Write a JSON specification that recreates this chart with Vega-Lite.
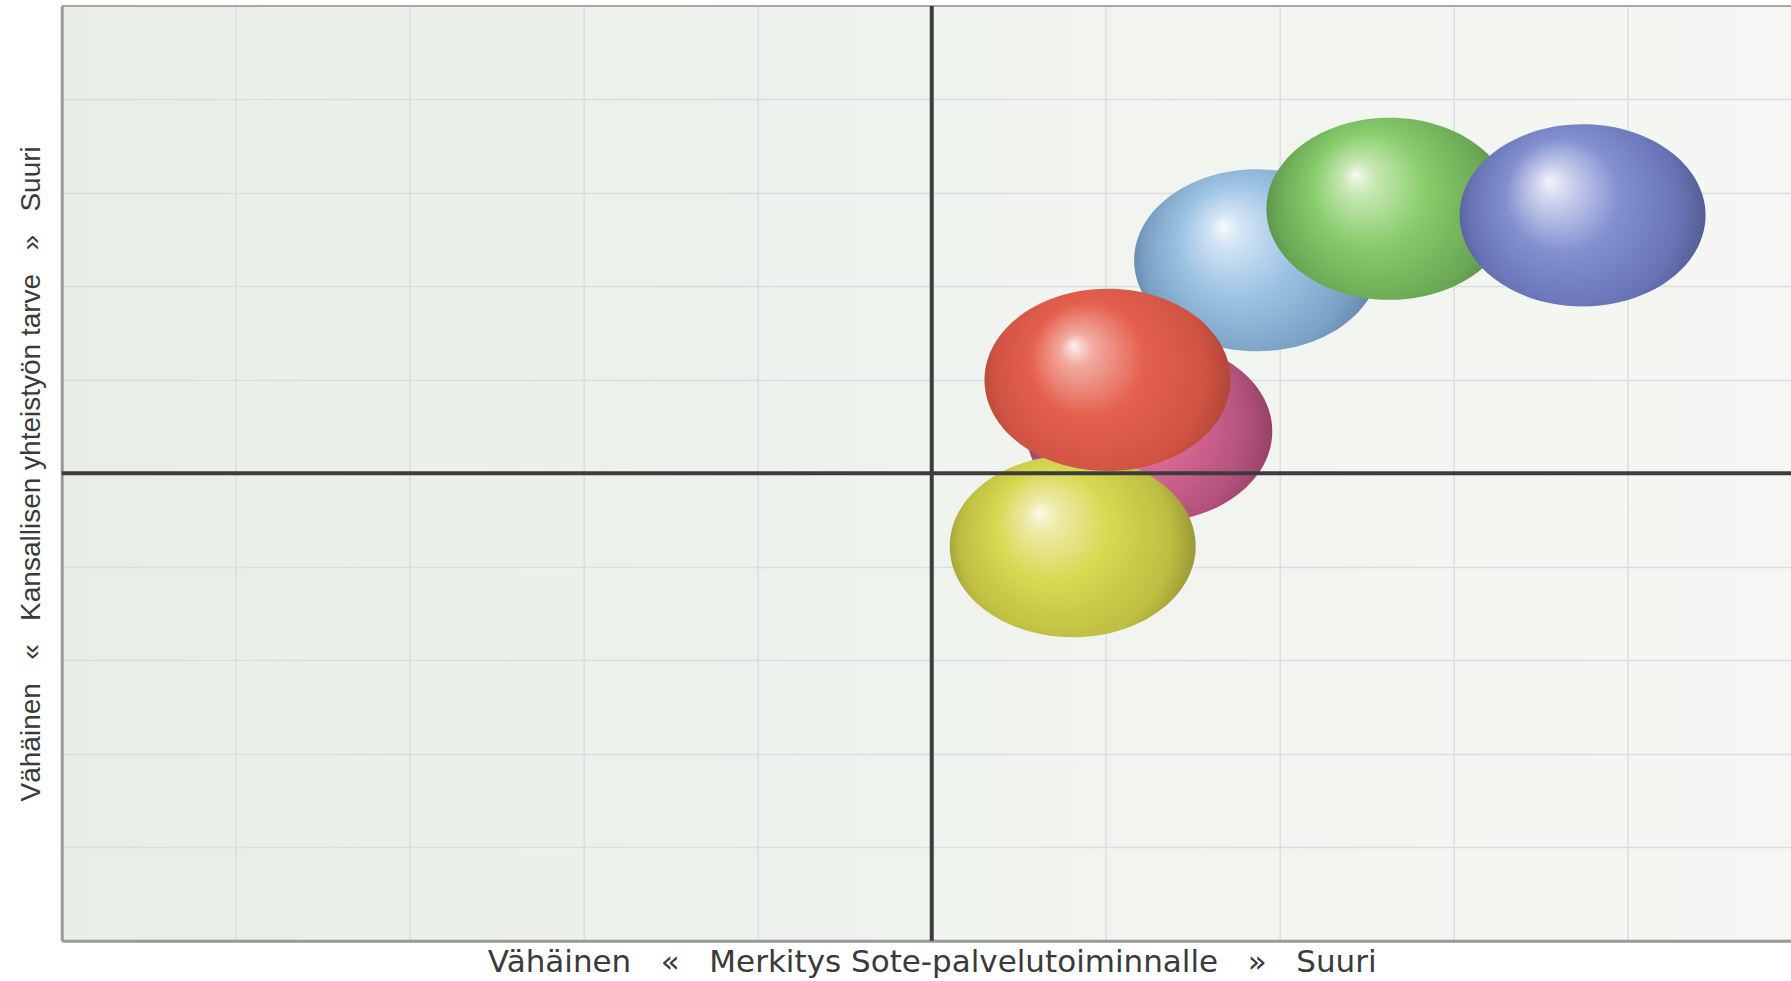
{
  "$schema": "https://vega.github.io/schema/vega-lite/v6.json",
  "autosize": {"type": "none"},
  "padding": {"left": 61.7, "top": 6, "right": 0, "bottom": 40.3},
  "width": 1729.3,
  "height": 934.7,
  "config": {
    "view": {
      "stroke": null,
      "fill": {"gradient": "linear", "x1": 0, "y1": 0, "x2": 1, "y2": 0,
        "stops": [{"offset": 0, "color": "#e8eee6"}, {"offset": 1, "color": "#f6f7f4"}]}
    },
    "axis": {
      "labels": false, "ticks": false, "grid": true, "gridColor": "#dcdde1", "gridWidth": 1.5,
      "domainColor": "#999999", "domainWidth": 3, "titleFontWeight": "normal", "titleColor": "#3a3a3a"
    },
    "axisX": {"titleFont": "DejaVu Sans", "titleFontSize": 31, "titlePadding": 31, "titleBaseline": "alphabetic", "titleX": 870},
    "axisY": {"titleFont": "Liberation Sans", "titleFontSize": 28, "titlePadding": 16}
  },
  "data": {"values": [
    {"name": "Vaaleanpunainen", "x": 6.25, "y": 5.45},
    {"name": "Keltainen", "x": 5.81, "y": 4.22},
    {"name": "Vaaleansininen", "x": 6.87, "y": 7.28},
    {"name": "Punainen", "x": 6.01, "y": 6.0},
    {"name": "Vihreä", "x": 7.63, "y": 7.83},
    {"name": "Sininen", "x": 8.74, "y": 7.76}
  ]},
  "layer": [
    {
      "data": {"values": [{}]},
      "mark": {"type": "rule", "color": "#a8a8a8", "strokeWidth": 2},
      "encoding": {
        "y": {"datum": 10, "type": "quantitative",
          "scale": {"domain": [0, 10], "nice": false, "zero": false},
          "axis": {"title": "Vähäinen\u00a0\u00a0\u00a0«\u00a0\u00a0\u00a0Kansallisen yhteistyön tarve\u00a0\u00a0\u00a0»\u00a0\u00a0\u00a0Suuri", "values": [1, 2, 3, 4, 5, 6, 7, 8, 9]}
        }
      }
    },
    {
      "transform": [{"filter": "datum.name === 'Vaaleanpunainen'"}],
      "mark": {"type": "point", "filled": true, "opacity": 1, "size": 60516, "strokeWidth": 0,
        "shape": "M -1 0 A 1 0.74 0 1 0 1 0 A 1 0.74 0 1 0 -1 0 Z",
        "color": {"gradient": "radial", "x1": 0.36, "y1": 0.36, "r1": 0, "x2": 0.5, "y2": 0.5, "r2": 0.55,
          "stops": [{"offset": 0, "color": "#f8d8e4"}, {"offset": 0.15, "color": "#ea88ac"}, {"offset": 0.45, "color": "#d66892"}, {"offset": 0.78, "color": "#b2517c"}, {"offset": 1, "color": "#883a5c"}]}},
      "encoding": {
        "x": {"field": "x", "type": "quantitative", "scale": {"domain": [0, 9.938], "nice": false, "zero": false},
          "axis": {"title": "Vähäinen\u00a0\u00a0\u00a0«\u00a0\u00a0\u00a0Merkitys Sote-palvelutoiminnalle\u00a0\u00a0\u00a0»\u00a0\u00a0\u00a0Suuri", "values": [1, 2, 3, 4, 5, 6, 7, 8, 9]}},
        "y": {"field": "y", "type": "quantitative", "scale": {"domain": [0, 10], "nice": false, "zero": false},
          "axis": {"title": "Vähäinen\u00a0\u00a0\u00a0«\u00a0\u00a0\u00a0Kansallisen yhteistyön tarve\u00a0\u00a0\u00a0»\u00a0\u00a0\u00a0Suuri", "values": [1, 2, 3, 4, 5, 6, 7, 8, 9]}}
      }
    },
    {
      "transform": [{"filter": "datum.name === 'Keltainen'"}],
      "mark": {"type": "point", "filled": true, "opacity": 1, "size": 60516, "strokeWidth": 0,
        "shape": "M -1 0 A 1 0.74 0 1 0 1 0 A 1 0.74 0 1 0 -1 0 Z",
        "color": {"gradient": "radial", "x1": 0.36, "y1": 0.36, "r1": 0, "x2": 0.5, "y2": 0.5, "r2": 0.55,
          "stops": [{"offset": 0, "color": "#fbf9ec"}, {"offset": 0.12, "color": "#eeeaa8"}, {"offset": 0.42, "color": "#d8d850"}, {"offset": 0.78, "color": "#bdbd42"}, {"offset": 1, "color": "#8a8832"}]}},
      "encoding": {
        "x": {"field": "x", "type": "quantitative", "scale": {"domain": [0, 9.938], "nice": false, "zero": false},
          "axis": {"title": "Vähäinen\u00a0\u00a0\u00a0«\u00a0\u00a0\u00a0Merkitys Sote-palvelutoiminnalle\u00a0\u00a0\u00a0»\u00a0\u00a0\u00a0Suuri", "values": [1, 2, 3, 4, 5, 6, 7, 8, 9]}},
        "y": {"field": "y", "type": "quantitative", "scale": {"domain": [0, 10], "nice": false, "zero": false},
          "axis": {"title": "Vähäinen\u00a0\u00a0\u00a0«\u00a0\u00a0\u00a0Kansallisen yhteistyön tarve\u00a0\u00a0\u00a0»\u00a0\u00a0\u00a0Suuri", "values": [1, 2, 3, 4, 5, 6, 7, 8, 9]}}
      }
    },
    {
      "transform": [{"filter": "datum.name === 'Vaaleansininen'"}],
      "mark": {"type": "point", "filled": true, "opacity": 1, "size": 60516, "strokeWidth": 0,
        "shape": "M -1 0 A 1 0.74 0 1 0 1 0 A 1 0.74 0 1 0 -1 0 Z",
        "color": {"gradient": "radial", "x1": 0.36, "y1": 0.36, "r1": 0, "x2": 0.5, "y2": 0.5, "r2": 0.55,
          "stops": [{"offset": 0, "color": "#f6f9fc"}, {"offset": 0.12, "color": "#d2e4f4"}, {"offset": 0.42, "color": "#9dc3e4"}, {"offset": 0.78, "color": "#7aa0c3"}, {"offset": 1, "color": "#57769a"}]}},
      "encoding": {
        "x": {"field": "x", "type": "quantitative", "scale": {"domain": [0, 9.938], "nice": false, "zero": false},
          "axis": {"title": "Vähäinen\u00a0\u00a0\u00a0«\u00a0\u00a0\u00a0Merkitys Sote-palvelutoiminnalle\u00a0\u00a0\u00a0»\u00a0\u00a0\u00a0Suuri", "values": [1, 2, 3, 4, 5, 6, 7, 8, 9]}},
        "y": {"field": "y", "type": "quantitative", "scale": {"domain": [0, 10], "nice": false, "zero": false},
          "axis": {"title": "Vähäinen\u00a0\u00a0\u00a0«\u00a0\u00a0\u00a0Kansallisen yhteistyön tarve\u00a0\u00a0\u00a0»\u00a0\u00a0\u00a0Suuri", "values": [1, 2, 3, 4, 5, 6, 7, 8, 9]}}
      }
    },
    {
      "transform": [{"filter": "datum.name === 'Punainen'"}],
      "mark": {"type": "point", "filled": true, "opacity": 1, "size": 60516, "strokeWidth": 0,
        "shape": "M -1 0 A 1 0.74 0 1 0 1 0 A 1 0.74 0 1 0 -1 0 Z",
        "color": {"gradient": "radial", "x1": 0.36, "y1": 0.36, "r1": 0, "x2": 0.5, "y2": 0.5, "r2": 0.55,
          "stops": [{"offset": 0, "color": "#fcf0f0"}, {"offset": 0.12, "color": "#f2aaa0"}, {"offset": 0.42, "color": "#e5604e"}, {"offset": 0.78, "color": "#cf5343"}, {"offset": 1, "color": "#a44032"}]}},
      "encoding": {
        "x": {"field": "x", "type": "quantitative", "scale": {"domain": [0, 9.938], "nice": false, "zero": false},
          "axis": {"title": "Vähäinen\u00a0\u00a0\u00a0«\u00a0\u00a0\u00a0Merkitys Sote-palvelutoiminnalle\u00a0\u00a0\u00a0»\u00a0\u00a0\u00a0Suuri", "values": [1, 2, 3, 4, 5, 6, 7, 8, 9]}},
        "y": {"field": "y", "type": "quantitative", "scale": {"domain": [0, 10], "nice": false, "zero": false},
          "axis": {"title": "Vähäinen\u00a0\u00a0\u00a0«\u00a0\u00a0\u00a0Kansallisen yhteistyön tarve\u00a0\u00a0\u00a0»\u00a0\u00a0\u00a0Suuri", "values": [1, 2, 3, 4, 5, 6, 7, 8, 9]}}
      }
    },
    {
      "transform": [{"filter": "datum.name === 'Vihreä'"}],
      "mark": {"type": "point", "filled": true, "opacity": 1, "size": 60516, "strokeWidth": 0,
        "shape": "M -1 0 A 1 0.74 0 1 0 1 0 A 1 0.74 0 1 0 -1 0 Z",
        "color": {"gradient": "radial", "x1": 0.36, "y1": 0.36, "r1": 0, "x2": 0.5, "y2": 0.5, "r2": 0.55,
          "stops": [{"offset": 0, "color": "#f4faf0"}, {"offset": 0.12, "color": "#c8e8b4"}, {"offset": 0.42, "color": "#88cc6c"}, {"offset": 0.78, "color": "#69a854"}, {"offset": 1, "color": "#4c7e3e"}]}},
      "encoding": {
        "x": {"field": "x", "type": "quantitative", "scale": {"domain": [0, 9.938], "nice": false, "zero": false},
          "axis": {"title": "Vähäinen\u00a0\u00a0\u00a0«\u00a0\u00a0\u00a0Merkitys Sote-palvelutoiminnalle\u00a0\u00a0\u00a0»\u00a0\u00a0\u00a0Suuri", "values": [1, 2, 3, 4, 5, 6, 7, 8, 9]}},
        "y": {"field": "y", "type": "quantitative", "scale": {"domain": [0, 10], "nice": false, "zero": false},
          "axis": {"title": "Vähäinen\u00a0\u00a0\u00a0«\u00a0\u00a0\u00a0Kansallisen yhteistyön tarve\u00a0\u00a0\u00a0»\u00a0\u00a0\u00a0Suuri", "values": [1, 2, 3, 4, 5, 6, 7, 8, 9]}}
      }
    },
    {
      "transform": [{"filter": "datum.name === 'Sininen'"}],
      "mark": {"type": "point", "filled": true, "opacity": 1, "size": 60516, "strokeWidth": 0,
        "shape": "M -1 0 A 1 0.74 0 1 0 1 0 A 1 0.74 0 1 0 -1 0 Z",
        "color": {"gradient": "radial", "x1": 0.36, "y1": 0.36, "r1": 0, "x2": 0.5, "y2": 0.5, "r2": 0.55,
          "stops": [{"offset": 0, "color": "#f4f4fc"}, {"offset": 0.12, "color": "#d0d4f0"}, {"offset": 0.42, "color": "#8290d0"}, {"offset": 0.78, "color": "#6773b4"}, {"offset": 1, "color": "#4a5484"}]}},
      "encoding": {
        "x": {"field": "x", "type": "quantitative", "scale": {"domain": [0, 9.938], "nice": false, "zero": false},
          "axis": {"title": "Vähäinen\u00a0\u00a0\u00a0«\u00a0\u00a0\u00a0Merkitys Sote-palvelutoiminnalle\u00a0\u00a0\u00a0»\u00a0\u00a0\u00a0Suuri", "values": [1, 2, 3, 4, 5, 6, 7, 8, 9]}},
        "y": {"field": "y", "type": "quantitative", "scale": {"domain": [0, 10], "nice": false, "zero": false},
          "axis": {"title": "Vähäinen\u00a0\u00a0\u00a0«\u00a0\u00a0\u00a0Kansallisen yhteistyön tarve\u00a0\u00a0\u00a0»\u00a0\u00a0\u00a0Suuri", "values": [1, 2, 3, 4, 5, 6, 7, 8, 9]}}
      }
    },
    {
      "data": {"values": [{}]},
      "mark": {"type": "rule", "color": "#3c3c3c", "strokeWidth": 4},
      "encoding": {
        "x": {"datum": 5, "type": "quantitative", "scale": {"domain": [0, 9.938], "nice": false, "zero": false},
          "axis": {"title": "Vähäinen\u00a0\u00a0\u00a0«\u00a0\u00a0\u00a0Merkitys Sote-palvelutoiminnalle\u00a0\u00a0\u00a0»\u00a0\u00a0\u00a0Suuri", "values": [1, 2, 3, 4, 5, 6, 7, 8, 9]}}
      }
    },
    {
      "data": {"values": [{}]},
      "mark": {"type": "rule", "color": "#3c3c3c", "strokeWidth": 4},
      "encoding": {
        "y": {"datum": 5, "type": "quantitative", "scale": {"domain": [0, 10], "nice": false, "zero": false},
          "axis": {"title": "Vähäinen\u00a0\u00a0\u00a0«\u00a0\u00a0\u00a0Kansallisen yhteistyön tarve\u00a0\u00a0\u00a0»\u00a0\u00a0\u00a0Suuri", "values": [1, 2, 3, 4, 5, 6, 7, 8, 9]}}
      }
    }
  ]
}
